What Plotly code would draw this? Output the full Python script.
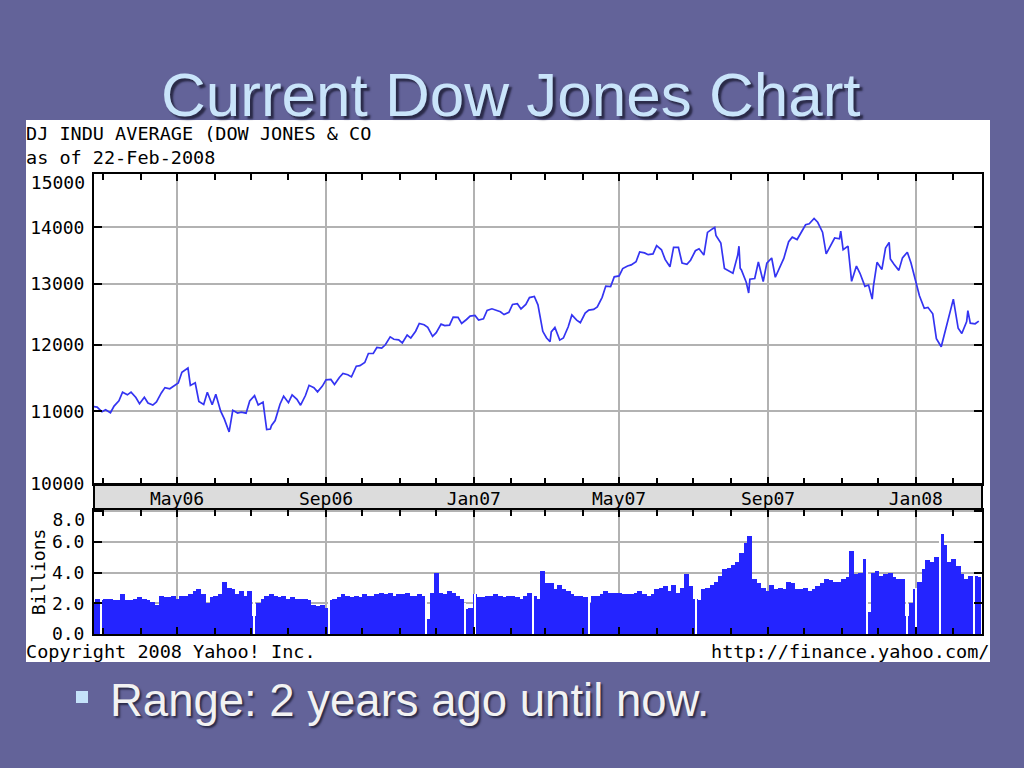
import pandas as pd
import plotly.graph_objects as go

# ---------------- data ----------------
# semi-weekly sampling grid (Tuesday / Friday), Feb-2006 .. Feb-2008
tuesdays = pd.date_range("2006-02-21", "2008-02-19", freq="W-TUE")
fridays = pd.date_range("2006-02-24", "2008-02-22", freq="W-FRI")

# DJIA close, pairs (Tue, Fri) per week
dow_close = [
    11069, 11061, 10993, 11022, 10980, 11076, 11151, 11279, 11240, 11280,
    11200, 11109, 11204, 11120, 11090, 11137, 11268, 11347, 11330, 11367,
    11416, 11577, 11625, 11380, 11420, 11144, 11098, 11278, 11095, 11247,
    11002, 10891, 10706, 11014, 10974, 10989, 10973, 11150, 11228, 11091,
    11134, 10739, 10799, 10868, 11103, 11219, 11125, 11240, 11173, 11088,
    11230, 11381, 11345, 11284, 11370, 11464, 11469, 11392, 11498, 11560,
    11540, 11508, 11670, 11679, 11727, 11866, 11867, 11960, 11950, 12002,
    12127, 12090, 12081, 12032, 12156, 12108, 12218, 12342, 12321, 12280,
    12136, 12194, 12331, 12307, 12315, 12446, 12441, 12343, 12407, 12463,
    12474, 12398, 12417, 12557, 12582, 12565, 12533, 12487, 12523, 12653,
    12666, 12580, 12654, 12768, 12786, 12647, 12216, 12114, 12207, 12277,
    12076, 12110, 12289, 12481, 12397, 12354, 12511, 12560, 12573, 12612,
    12773, 12962, 12953, 13120, 13136, 13264, 13309, 13327, 13383, 13556,
    13539, 13507, 13521, 13668, 13595, 13424, 13295, 13639, 13636, 13360,
    13337, 13409, 13577, 13611, 13501, 13907, 13971, 13851, 13716, 13266,
    13212, 13182, 13504, 13240, 13028, 13079, 13091, 13379, 13041, 13358,
    13448, 13113, 13308, 13442, 13739, 13821, 13778, 13896, 14047, 14066,
    14165, 14093, 13912, 13522, 13676, 13806, 13792, 13595, 13660, 13043,
    13307, 13177, 12958, 12980, 12958, 13372, 13249, 13625, 13433, 13339,
    13232, 13451, 13551, 13366, 13044, 12800, 12590, 12606, 12501, 12099,
    11971, 12207, 12480, 12743, 12265, 12182, 12373, 12348, 12337, 12381,
]

# extra daily closes at notable highs / lows
extra_dates = ["2006-05-10", "2006-07-17", "2007-03-05", "2007-07-19",
               "2007-08-08", "2007-08-09", "2007-08-16", "2007-10-31",
               "2007-11-26", "2007-12-10", "2008-02-13"]
extra_close = [11642, 10747, 12050, 14000, 13658, 13270, 12845, 13930,
               12743, 13727, 12552]

# volume in billions, pairs (Tue, Fri) per week
volume = [
    2.0, 2.3, 2.2, 2.3, 2.3, 2.2, 2.2, 2.6, 2.2, 2.2,
    2.3, 2.4, 2.3, 2.2, 2.1, 1.9, 2.5, 2.4, 2.4, 2.5,
    2.3, 2.5, 2.5, 2.6, 2.8, 2.9, 2.6, 2.0, 2.4, 2.5,
    2.6, 3.4, 3.0, 2.9, 2.6, 2.8, 2.5, 2.8, 1.2, 2.0,
    2.3, 2.5, 2.6, 2.5, 2.4, 2.5, 2.3, 2.4, 2.3, 2.3,
    2.3, 2.2, 1.9, 1.8, 1.9, 1.7, 2.2, 2.3, 2.4, 2.6,
    2.5, 2.4, 2.5, 2.4, 2.6, 2.5, 2.5, 2.6, 2.7, 2.6,
    2.7, 2.5, 2.6, 2.6, 2.7, 2.5, 2.5, 2.6, 2.5, 1.0,
    2.7, 4.0, 2.7, 2.6, 2.8, 2.7, 2.5, 2.3, 1.6, 1.7,
    2.6, 2.4, 2.4, 2.5, 2.5, 2.6, 2.5, 2.4, 2.5, 2.5,
    2.4, 2.3, 2.5, 2.7, 2.5, 2.3, 4.1, 3.3, 3.3, 2.9,
    3.2, 2.9, 2.8, 2.6, 2.5, 2.5, 2.4, 2.0, 2.5, 2.5,
    2.6, 2.8, 2.7, 2.7, 2.7, 2.6, 2.6, 2.6, 2.7, 2.8,
    2.6, 2.5, 2.6, 2.9, 3.0, 3.1, 2.8, 3.2, 2.7, 3.0,
    3.9, 3.1, 2.3, 2.2, 2.9, 3.0, 3.2, 3.4, 3.8, 4.2,
    4.3, 4.5, 4.7, 5.3, 5.9, 6.4, 3.6, 3.3, 3.0, 2.8,
    3.2, 2.9, 3.0, 2.9, 3.4, 3.3, 2.9, 2.9, 3.0, 2.8,
    2.9, 3.1, 3.3, 3.6, 3.5, 3.4, 3.4, 3.6, 3.7, 5.4,
    3.9, 4.0, 4.9, 1.4, 4.0, 4.1, 3.8, 3.9, 4.0, 3.7,
    3.6, 3.6, 1.2, 2.0, 2.9, 3.4, 4.2, 4.8, 4.7, 5.0,
    6.5, 5.8, 4.7, 4.9, 4.4, 3.9, 3.6, 3.8, 3.8, 3.7,
]

# market-closed days that leave thin gaps in the volume bars
closed_dates = ["2006-02-27", "2006-07-04", "2006-09-04", "2006-11-23",
                "2006-12-25", "2007-01-02", "2007-02-19", "2007-04-06",
                "2007-07-04", "2007-11-22", "2007-12-25", "2008-01-01",
                "2008-01-21", "2008-02-18"]
closed_level = [2.3, 2.8, 2.3, 2.6, 2.0, 2.6, 2.7, 2.5, 3.2, 4.9, 3.6, 3.0,
                6.5, 3.8]

# tick values / labels (top label of each panel hangs below its tick)
price_ticks = [10000, 11000, 12000, 13000, 14000, 15000]
price_tick_text = ["10000", "11000", "12000", "13000", "14000", ""]
price_top_tick = [15000]
price_top_text = ["15000"]
vol_ticks = [0, 2, 4, 6, 8]
vol_tick_text = ["0.0", "2.0", "4.0", "6.0", ""]
vol_top_tick = [8]
vol_top_text = ["8.0"]

# ---------------- assemble ----------------
base_dates = []
for t, f in zip(tuesdays, fridays):
    base_dates += [t, f]

price_df = pd.DataFrame({
    "date": base_dates + list(pd.to_datetime(extra_dates)),
    "close": dow_close + extra_close,
}).sort_values("date")

W, H = 1024, 768
def X(px):
    return px / W
def Y(py):
    return 1 - py / H

MONO = "DejaVu Sans Mono"
NARROW = "Liberation Sans Narrow, Arial Narrow, Liberation Sans, Arial"
DAY = 86400000
TICKFONT = dict(family=MONO, size=18, color="black")

fig = go.Figure()

fig.add_trace(go.Scatter(
    x=price_df["date"], y=price_df["close"], mode="lines",
    line=dict(color="#3434f2", width=1.7), xaxis="x", yaxis="y",
    showlegend=False, hoverinfo="skip"))

fig.add_trace(go.Bar(
    x=base_dates, y=volume, width=[4 * DAY] * len(volume),
    marker=dict(color="#2424ff", line=dict(width=0)),
    xaxis="x2", yaxis="y2", showlegend=False, hoverinfo="skip"))

fig.add_trace(go.Bar(
    x=pd.to_datetime(closed_dates), y=closed_level,
    width=[1.1 * DAY] * len(closed_dates),
    marker=dict(color="white", line=dict(width=0)),
    xaxis="x2", yaxis="y2", showlegend=False, hoverinfo="skip"))

# empty helper traces so the label-only overlay axes are drawn
fig.add_trace(go.Scatter(x=[None], y=[None], xaxis="x", yaxis="y3",
                         showlegend=False, hoverinfo="skip"))
fig.add_trace(go.Scatter(x=[None], y=[None], xaxis="x2", yaxis="y4",
                         showlegend=False, hoverinfo="skip"))

xrange = ["2006-02-21 10:00", "2008-02-24 16:00"]
price_range = [4, 4.1765]
vol_range = [0, 8.07]
grid = "#b2b2b2"
common_x = dict(
    type="date", range=xrange, domain=[X(94), X(982)],
    showline=True, linecolor="black", linewidth=2, mirror="ticks",
    ticks="inside", ticklen=7, tickwidth=1.5, tickcolor="black",
    tick0="2006-05-01", dtick="M4", tickformat="%b%y",
    showgrid=True, gridcolor=grid, gridwidth=2, zeroline=False,
    minor=dict(dtick="M1", tick0="2006-03-01", ticks="inside", ticklen=6,
               tickwidth=1.5, tickcolor="black", showgrid=False),
    tickfont=TICKFONT, fixedrange=True, automargin=False,
)
label_axis = dict(side="left", showgrid=False, showline=False, ticks="",
                  zeroline=False, ticklabelposition="outside",
                  ticklabelstandoff=8, tickfont=TICKFONT, fixedrange=True,
                  automargin=False)

fig.update_layout(
    width=W, height=H,
    margin=dict(l=0, r=0, t=0, b=0, pad=0, autoexpand=False),
    paper_bgcolor="#636399", plot_bgcolor="white",
    barmode="overlay", bargap=0, showlegend=False,
    xaxis=dict(common_x, anchor="y", showticklabels=True, ticklabelstandoff=-3),
    yaxis=dict(
        type="log", range=price_range, domain=[Y(484), Y(174)],
        tickvals=price_ticks, ticktext=price_tick_text,
        showline=True, linecolor="black", linewidth=2, mirror="ticks",
        ticks="inside", ticklen=8, tickwidth=1.5, tickcolor="black",
        showgrid=True, gridcolor=grid, gridwidth=2, zeroline=False,
        ticklabelstandoff=4, automargin=False,
        tickfont=TICKFONT, fixedrange=True),
    yaxis3=dict(label_axis, overlaying="y", anchor="x", type="log",
                range=price_range, tickvals=price_top_tick,
                ticktext=price_top_text, ticklabelshift=8),
    xaxis2=dict(common_x, anchor="y2", matches="x", showticklabels=False),
    yaxis2=dict(
        range=vol_range, domain=[Y(634), Y(510)],
        tickvals=vol_ticks, ticktext=vol_tick_text,
        showline=True, linecolor="black", linewidth=2, mirror="ticks",
        ticks="inside", ticklen=8, tickwidth=1.5, tickcolor="black",
        showgrid=True, gridcolor=grid, gridwidth=2, zeroline=False,
        ticklabelstandoff=4, automargin=False,
        tickfont=TICKFONT,
        title=dict(text="Billions", font=TICKFONT, standoff=2),
        fixedrange=True),
    yaxis4=dict(label_axis, overlaying="y2", anchor="x2",
                range=vol_range, tickvals=vol_top_tick,
                ticktext=vol_top_text, ticklabelshift=9),
)

shapes = [
    # white chart card
    dict(type="rect", xref="paper", yref="paper", x0=X(26), x1=X(990),
         y0=Y(662), y1=Y(120), fillcolor="white", line=dict(width=0), layer="below"),
    # gray date band
    dict(type="rect", xref="paper", yref="paper", x0=X(94), x1=X(982),
         y0=Y(510), y1=Y(484), fillcolor="#dcdcdc",
         line=dict(color="black", width=2), layer="below"),
    # bullet square
    dict(type="rect", xref="paper", yref="paper", x0=X(76), x1=X(88),
         y0=Y(703), y1=Y(691), fillcolor="#c4e2fa", line=dict(width=0)),
]
fig.update_layout(shapes=shapes)

ann = [
    dict(text="Current Dow Jones Chart", x=X(511), y=Y(94), xanchor="center",
         yanchor="middle",
         font=dict(family=NARROW, size=62, color="#c9e4fa",
                   shadow="3px 3px 2px #2a2a48")),
    dict(text="DJ INDU AVERAGE (DOW JONES & CO", x=X(24), y=Y(133),
         xanchor="left", yanchor="middle",
         font=dict(family=MONO, size=18.5, color="black")),
    dict(text="as of 22-Feb-2008", x=X(24), y=Y(157), xanchor="left",
         yanchor="middle", font=dict(family=MONO, size=18.5, color="black")),
    dict(text="Copyright 2008 Yahoo! Inc.", x=X(24), y=Y(651), xanchor="left",
         yanchor="middle", font=dict(family=MONO, size=18.5, color="black")),
    dict(text="http://finance.yahoo.com/", x=X(991), y=Y(651), xanchor="right",
         yanchor="middle", font=dict(family=MONO, size=18.5, color="black")),
    dict(text="Range: 2 years ago until now.", x=X(108), y=Y(700),
         xanchor="left", yanchor="middle",
         font=dict(family=NARROW, size=45.5, color="#f2f2f2",
                   shadow="2px 2px 2px #2a2a48")),
]
for a in ann:
    a.update(xref="paper", yref="paper", showarrow=False)
fig.update_layout(annotations=ann)

fig.write_html("out.html", config={"displayModeBar": False},
               post_script="document.body.style.margin='0px';document.body.style.overflow='hidden';")
